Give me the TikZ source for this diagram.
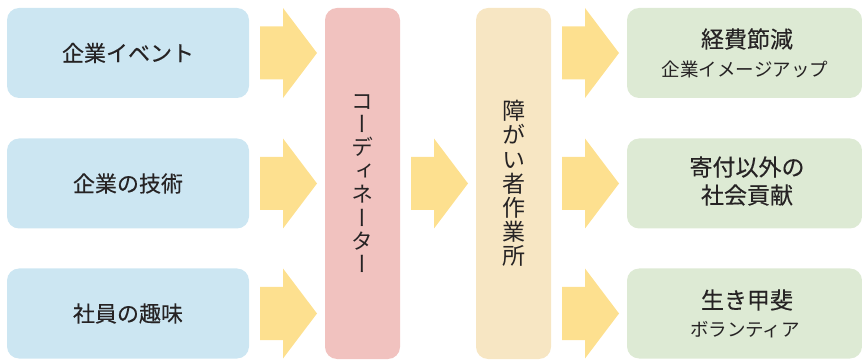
\documentclass[tikz,border=0pt]{standalone}
\usepackage{fontspec}
\setmainfont{Noto Sans CJK JP}
\newfontfamily\cjk{Noto Sans CJK JP}
\newfontfamily\cjkb{Noto Sans CJK JP}[FakeBold=0.25]
\newfontfamily\cjkv{Noto Sans CJK JP}[RawFeature={+vert}]
\definecolor{boxblue}{HTML}{CCE6F2}
\definecolor{boxpink}{HTML}{F1C2BF}
\definecolor{boxcream}{HTML}{F7E6C3}
\definecolor{boxgreen}{HTML}{DDEAD4}
\definecolor{arrowyel}{HTML}{FDE08F}
\definecolor{txt}{HTML}{262324}
\begin{document}
\begin{tikzpicture}[x=1pt,y=-1pt,
  box/.style={rounded corners=12pt, inner sep=0pt, text=txt, align=center},
  bluebox/.style={box, fill=boxblue, minimum width=242pt, minimum height=90pt, font=\cjkb\fontsize{22}{26}\selectfont},
  greenbox/.style={box, fill=boxgreen, minimum width=235pt, minimum height=90pt},
  tallbox/.style={box, minimum width=75pt, minimum height=351pt},
  blockarrow/.style={fill=arrowyel},
  maintxt/.style={font=\cjkb\fontsize{23}{28}\selectfont, text=txt, inner sep=0pt},
  subtxt/.style={font=\cjk\fontsize{18.5}{22}\selectfont, text=txt, inner sep=0pt},
]
\useasboundingbox (0,0) rectangle (862,363);
% left boxes
\node[bluebox] (b1) at (128,53) {企業イベント};
\node[bluebox] (b2) at (128,183.5) {企業の技術};
\node[bluebox] (b3) at (128,313.5) {社員の趣味};
% tall boxes
\node[tallbox, fill=boxpink] (coord) at (362.5,183.5) {};
\node[tallbox, fill=boxcream] (work) at (513.5,183.5) {};
\node[font=\cjkv\fontsize{22}{23.4}\selectfont, text=txt, align=center, inner sep=0pt] (coordtxt) at (coord.center)
  {コ\\ー\\デ\\ィ\\ネ\\ー\\タ\\ー};
\node[font=\cjkv\fontsize{23}{24.2}\selectfont, text=txt, align=center, inner sep=0pt] (worktxt) at (work.center)
  {障\\が\\い\\者\\作\\業\\所};
% right boxes
\node[greenbox] (g1) at (744.5,53) {};
\node[greenbox] (g2) at (744.5,183.5) {};
\node[greenbox] (g3) at (744.5,313.5) {};
\node[maintxt] (g1a) at (747,39) {経費節減};
\node[subtxt] (g1b) at (745,69) {企業イメージアップ};
\node[maintxt, align=center] (g2a) at (747,181) {寄付以外の\\社会貢献};
\node[maintxt] (g3a) at (747,300) {生き甲斐};
\node[subtxt] (g3b) at (745,330) {ボランティア};
% block arrows
\foreach \xs/\yc in {260/53, 260/183.5, 260/313.5, 411/183.5, 562/53, 562/183.5, 562/313.5}{
  \fill[blockarrow] (\xs,\yc-26.5) -- (\xs+23,\yc-26.5) -- (\xs+23,\yc-45) -- (\xs+57,\yc)
     -- (\xs+23,\yc+45) -- (\xs+23,\yc+26.5) -- (\xs,\yc+26.5) -- cycle;
}
\end{tikzpicture}
\end{document}
